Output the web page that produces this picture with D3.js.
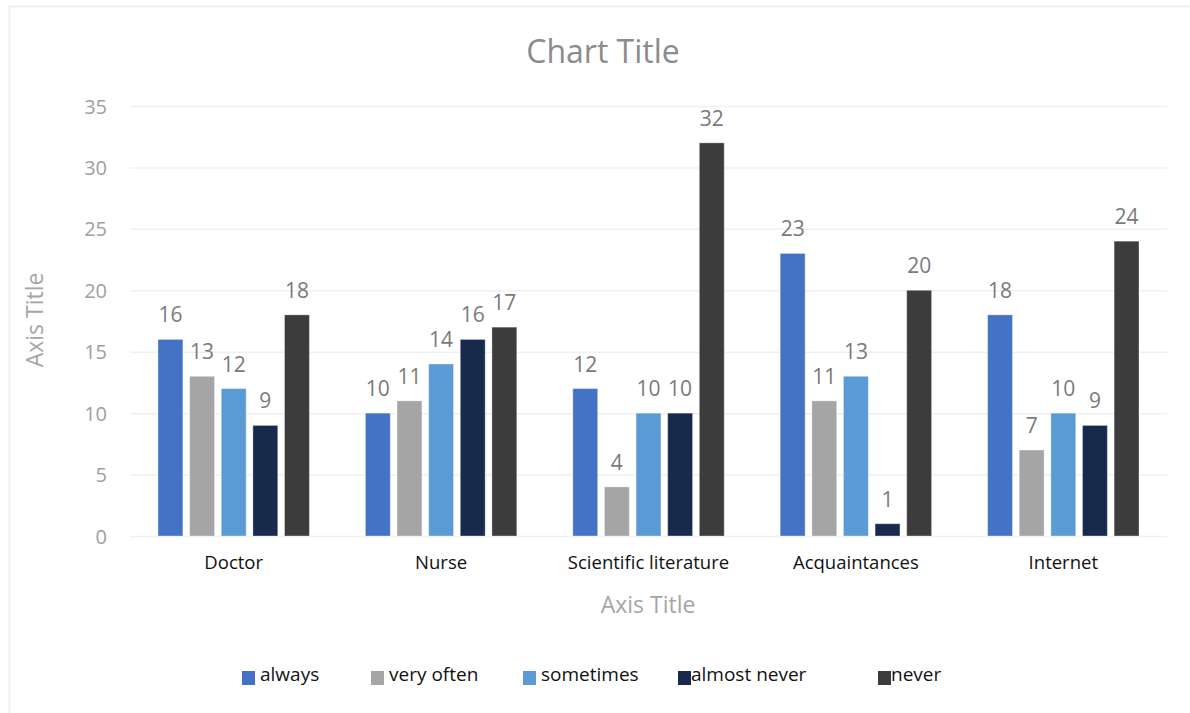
<!DOCTYPE html>
<html><head><meta charset="utf-8">
<script src="https://cdn.jsdelivr.net/npm/d3@7"></script>
<style>body{margin:0;background:#fff}svg{display:block;font-family:"Open Sans","Noto Sans",sans-serif}</style>
</head><body>
<svg id="c" width="1190" height="713"></svg>
<script>
const categories = ["Doctor", "Nurse", "Scientific literature", "Acquaintances", "Internet"];
const seriesNames = ["always", "very often", "sometimes", "almost never", "never"];
const always      = [16, 10, 12, 23, 18];
const veryOften   = [13, 11, 4, 11, 7];
const sometimes   = [12, 14, 10, 13, 10];
const almostNever = [9, 16, 10, 1, 9];
const never       = [18, 17, 32, 20, 24];
const yTicks = [0, 5, 10, 15, 20, 25, 30, 35];
const colors = ["#4472C4", "#A5A5A5", "#5B9BD5", "#182A4C", "#3C3C3C"];

const series = [always, veryOften, sometimes, almostNever, never];
const svg = d3.select("#c");

// chart border
svg.append("rect").attr("x", 9.5).attr("y", 6.5).attr("width", 1200).attr("height", 720)
  .attr("fill", "none").attr("stroke", "#f0f0f0").attr("stroke-width", 2);

const pLeft = 130, pRight = 1167, pTop = 106, pBottom = 536;
const y = d3.scaleLinear().domain([0, 35]).range([pBottom, pTop]);
const x0 = d3.scaleBand().domain(categories).range([pLeft, pRight]).padding(0);
const x1 = d3.scaleBand().domain(seriesNames).range([28, x0.bandwidth() - 28]).paddingInner(0.213).paddingOuter(0);

// gridlines
svg.append("g").selectAll("line").data(yTicks).join("line")
  .attr("x1", pLeft).attr("x2", pRight).attr("y1", d => y(d) + 0.5).attr("y2", d => y(d) + 0.5)
  .attr("stroke", "#f0f0f0").attr("stroke-width", 1.5);

// y axis
const yAxis = svg.append("g").attr("transform", `translate(${pLeft - 21},0)`)
  .call(d3.axisLeft(y).tickValues(yTicks).tickSize(0).tickPadding(2));
yAxis.select(".domain").remove();
yAxis.selectAll("text").attr("font-size", 20).attr("fill", "#a0a0a0").attr("dy", "0.35em")
  .style("font-family", "'Open Sans','Noto Sans',sans-serif");

// x axis labels
const xAxis = svg.append("g").attr("transform", `translate(0,${pBottom})`)
  .call(d3.axisBottom(x0).tickSize(0).tickPadding(20));
xAxis.select(".domain").remove();
xAxis.selectAll("text").attr("font-size", 18.5).attr("fill", "#111")
  .style("font-family", "'Open Sans','Noto Sans',sans-serif");

// bars
const groups = svg.append("g").selectAll("g").data(categories).join("g")
  .attr("transform", d => `translate(${x0(d)},0)`);
groups.each(function(cat, ci) {
  const g = d3.select(this);
  const vals = series.map((s, si) => ({name: seriesNames[si], v: s[ci], c: colors[si]}));
  g.selectAll("rect").data(vals).join("rect")
    .attr("x", d => x1(d.name)).attr("width", x1.bandwidth())
    .attr("y", d => y(d.v)).attr("height", d => y(0) - y(d.v))
    .attr("fill", d => d.c).attr("stroke", "#ffffff").attr("stroke-opacity", 0.35).attr("stroke-width", 1);
  g.selectAll("text").data(vals).join("text")
    .attr("x", d => x1(d.name) + x1.bandwidth() / 2).attr("y", d => y(d.v) - 17)
    .attr("text-anchor", "middle").attr("font-size", 21).attr("fill", "#7a7a7a")
    .text(d => d.v);
});

// titles
svg.append("text").attr("x", 603).attr("y", 63).attr("text-anchor", "middle")
  .attr("font-size", 32).attr("fill", "#8c8c8c").text("Chart Title");
svg.append("text").attr("x", 648).attr("y", 613).attr("text-anchor", "middle")
  .attr("font-size", 23).attr("fill", "#a6a6a6").text("Axis Title");
svg.append("text").attr("transform", "translate(43,320) rotate(-90)").attr("text-anchor", "middle")
  .attr("font-size", 23).attr("fill", "#a6a6a6").text("Axis Title");

// legend
const legendX = [242, 371, 523, 678, 878];
const lg = svg.append("g").selectAll("g").data(seriesNames).join("g")
  .attr("transform", (d, i) => `translate(${legendX[i]},671)`);
lg.append("rect").attr("width", 13).attr("height", 14).attr("fill", (d, i) => colors[i]);
lg.append("text").attr("x", (d, i) => i === 3 || i === 4 ? 13 : 18).attr("y", 10)
  .attr("font-size", 19).attr("fill", "#111").text(d => d);
</script>
</body></html>
